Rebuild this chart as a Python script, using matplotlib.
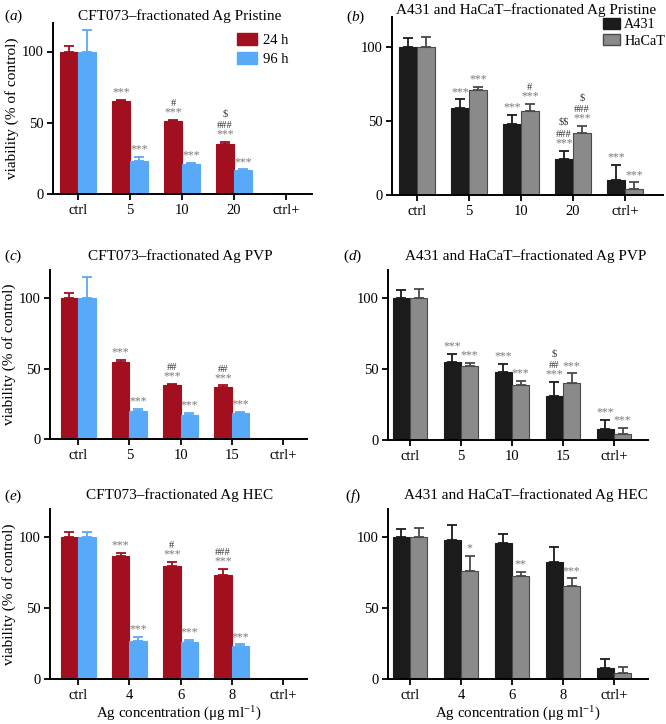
import numpy as np
import matplotlib
matplotlib.use("Agg")
import matplotlib.pyplot as plt
from matplotlib.patches import Patch

plt.rcParams['font.family'] = ['Liberation Serif', 'DejaVu Serif']
plt.rcParams['mathtext.fontset'] = 'custom'
plt.rcParams['mathtext.rm'] = 'Liberation Serif'
plt.rcParams['mathtext.it'] = 'Liberation Serif:italic'

W, H = 666, 724

# data
cats_a = ['ctrl', '5', '10', '20', 'ctrl+']
cats_c = ['ctrl', '5', '10', '15', 'ctrl+']
cats_e = ['ctrl', '4', '6', '8', 'ctrl+']

# panel a : CFT073 pristine
a_24 = [100, 65, 51, 35, 0]
a_24_err = [4, 1, 1, 1.5, 0]
a_96 = [100, 23.5, 21, 16.5, 0]
a_96_err = [15, 2.5, 1, 0.7, 0]
a_24_sig = [[], ['***'], ['***', '#'], ['***', '###', '$'], []]
a_96_sig = [[], ['***'], ['***'], ['***'], []]

# panel b : A431 / HaCaT pristine
b_a431 = [100, 58.5, 48, 24, 10]
b_a431_err = [6, 6, 6, 6, 10.5]
b_hacat = [100, 70.5, 56.5, 42, 4]
b_hacat_err = [6.5, 2.5, 5, 4.5, 4.5]
b_a431_sig = [[], ['***'], ['***'], ['***', '###', '$$'], ['***']]
b_hacat_sig = [[], ['***'], ['***', '#'], ['***', '###', '$'], ['***']]

# panel c : CFT073 PVP
c_24 = [100, 55, 38, 37, 0]
c_24_err = [4, 1, 1, 1, 0]
c_96 = [100, 20, 17, 18.5, 0]
c_96_err = [15, 1.5, 1.5, 1, 0]
c_24_sig = [[], ['***'], ['***', '##'], ['***', '##'], []]
c_96_sig = [[], ['***'], ['***'], ['***'], []]

# panel d : A431 / HaCaT PVP
d_a431 = [100, 55, 48, 31, 7.5]
d_a431_err = [6, 6, 6, 10, 6.5]
d_hacat = [100, 52, 39, 40.5, 4]
d_hacat_err = [6.5, 2.5, 2.5, 6.5, 4.5]
d_a431_sig = [[], ['***'], ['***'], ['***', '##', '$'], ['***']]
d_hacat_sig = [[], ['***'], ['***'], ['***'], ['***']]

# panel e : CFT073 HEC
e_24 = [100, 87, 79.5, 73.5, 0]
e_24_err = [3.5, 2, 3, 4, 0]
e_96 = [100, 27, 26, 23, 0]
e_96_err = [3.5, 2.5, 1.5, 1.5, 0]
e_24_sig = [[], ['***'], ['***', '#'], ['***', '###'], []]
e_96_sig = [[], ['***'], ['***'], ['***'], []]

# panel f : A431 / HaCaT HEC
f_a431 = [100, 98, 96, 82.5, 7.5]
f_a431_err = [6, 11, 6.5, 10.5, 6.5]
f_hacat = [100, 76, 73, 66, 4]
f_hacat_err = [6.5, 11, 2.5, 5, 4.5]
f_a431_sig = [[], [], [], [], []]
f_hacat_sig = [[], ['*'], ['**'], ['***'], []]

RED = '#a20f1f'
BLUE = '#58a9f7'
BLACK = '#1b1b1b'
GRAY = '#8a8a8a'
GRAY_EDGE = '#4a4a4a'


def px_axes(fig, left, right, top, bottom):
    return fig.add_axes([left / W, 1 - bottom / H, (right - left) / W, (bottom - top) / H])


def sig_text(ax, x, top, labels):
    # stack significance marks above the error bar
    for k, s in enumerate(labels):
        col = '#7a7a7a' if '*' in s else '#333333'
        fs = 8.5 if '*' in s else 7.5
        off = 0 if '*' in s else -1
        ax.annotate(s.replace('$', r'\$'), (x, top), xytext=(0, 1 + 8.6 * k + off),
                    textcoords='offset points', ha='center', va='bottom', fontsize=fs, color=col)


def panel(ax, cats, v1, e1, v2, e2, s1, s2, c1, c2, ec1, ec2, xlim):
    x = np.arange(len(cats))
    w = 0.34
    ax.bar(x - w / 2, v1, w, color=c1, edgecolor=ec1, linewidth=0.8)
    ax.bar(x + w / 2, v2, w, color=c2, edgecolor=ec2, linewidth=0.8)
    for xs, v, e, ec in [(x - w / 2, v1, e1, ec1), (x + w / 2, v2, e2, ec2)]:
        low = np.zeros(len(v))
        ax.errorbar(xs, v, yerr=[low, e], fmt='none', ecolor=ec, elinewidth=1.3,
                    capsize=3.3, capthick=1.3)
    for i in range(len(cats)):
        sig_text(ax, x[i] - w / 2, v1[i] + e1[i], s1[i])
        sig_text(ax, x[i] + w / 2, v2[i] + e2[i], s2[i])
    ax.set_xlim(*xlim)
    ax.set_ylim(0, 120)
    ax.set_xticks(x)
    ax.set_xticklabels(cats)
    ax.set_yticks([0, 50, 100])
    ax.spines['top'].set_visible(False)
    ax.spines['right'].set_visible(False)
    for sp in ['left', 'bottom']:
        ax.spines[sp].set_linewidth(1.4)
    ax.tick_params(direction='out', length=4, width=1.3, labelsize=10.5, pad=3)


fig = plt.figure(figsize=(W / 100, H / 100), dpi=100)

ax_a = px_axes(fig, 53, 312, 23, 194)
panel(ax_a, cats_a, a_24, a_24_err, a_96, a_96_err, a_24_sig, a_96_sig,
      RED, BLUE, RED, BLUE, (-0.48, 4.5))
ax_b = px_axes(fig, 392, 663, 17, 195)
panel(ax_b, cats_a, b_a431, b_a431_err, b_hacat, b_hacat_err, b_a431_sig, b_hacat_sig,
      BLACK, GRAY, BLACK, GRAY_EDGE, (-0.48, 4.73))
ax_c = px_axes(fig, 50, 307, 270, 439)
panel(ax_c, cats_c, c_24, c_24_err, c_96, c_96_err, c_24_sig, c_96_sig,
      RED, BLUE, RED, BLUE, (-0.55, 4.47))
ax_d = px_axes(fig, 388, 648, 270, 440)
panel(ax_d, cats_c, d_a431, d_a431_err, d_hacat, d_hacat_err, d_a431_sig, d_hacat_sig,
      BLACK, GRAY, BLACK, GRAY_EDGE, (-0.43, 4.67))
ax_e = px_axes(fig, 50, 307, 509, 679)
panel(ax_e, cats_e, e_24, e_24_err, e_96, e_96_err, e_24_sig, e_96_sig,
      RED, BLUE, RED, BLUE, (-0.55, 4.47))
ax_f = px_axes(fig, 388, 648, 509, 679)
panel(ax_f, cats_e, f_a431, f_a431_err, f_hacat, f_hacat_err, f_a431_sig, f_hacat_sig,
      BLACK, GRAY, BLACK, GRAY_EDGE, (-0.43, 4.67))

# titles and panel letters
titles = [('CFT073\u2013fractionated Ag Pristine', 180, 16, '($\\it{a}$)', 4, 16),
          ('A431 and HaCaT\u2013fractionated Ag Pristine', 526, 10, '($\\it{b}$)', 346, 17),
          ('CFT073\u2013fractionated Ag PVP', 180, 256, '($\\it{c}$)', 4, 256),
          ('A431 and HaCaT\u2013fractionated Ag PVP', 526, 256, '($\\it{d}$)', 343, 256),
          ('CFT073\u2013fractionated Ag HEC', 180, 495, '($\\it{e}$)', 4, 496),
          ('A431 and HaCaT\u2013fractionated Ag HEC', 526, 495, '($\\it{f}$)', 345, 496)]
for t, tx, ty, lab, lx, ly in titles:
    fig.text(tx / W, 1 - ty / H, t, ha='center', va='center', fontsize=11)
    fig.text(lx / W, 1 - ly / H, lab, ha='left', va='center', fontsize=11)

for ax in [ax_a, ax_c, ax_e]:
    ax.set_ylabel('viability (% of control)', fontsize=11, labelpad=2)

for ax in [ax_e, ax_f]:
    ax.set_xlabel('Ag concentration (\u03bcg ml$^{-1}$)', fontsize=10.8, labelpad=2)

# legends
leg_a = fig.legend(handles=[Patch(color=RED, label='24 h'), Patch(color=BLUE, label='96 h')],
                   loc='upper left', bbox_to_anchor=(237 / W, 1 - 33 / H), frameon=False,
                   fontsize=10.5, handlelength=1.4, handleheight=0.9, handletextpad=0.4,
                   labelspacing=0.35, borderpad=0, borderaxespad=0)
leg_b = fig.legend(handles=[Patch(facecolor=BLACK, edgecolor=BLACK, label='A431'),
                            Patch(facecolor=GRAY, edgecolor=GRAY_EDGE, label='HaCaT')],
                   loc='upper left', bbox_to_anchor=(603 / W, 1 - 18 / H), frameon=False,
                   fontsize=10.2, handlelength=1.2, handleheight=0.8, handletextpad=0.3,
                   labelspacing=0.2, borderpad=0, borderaxespad=0)

fig.savefig('out.png', dpi=100)
